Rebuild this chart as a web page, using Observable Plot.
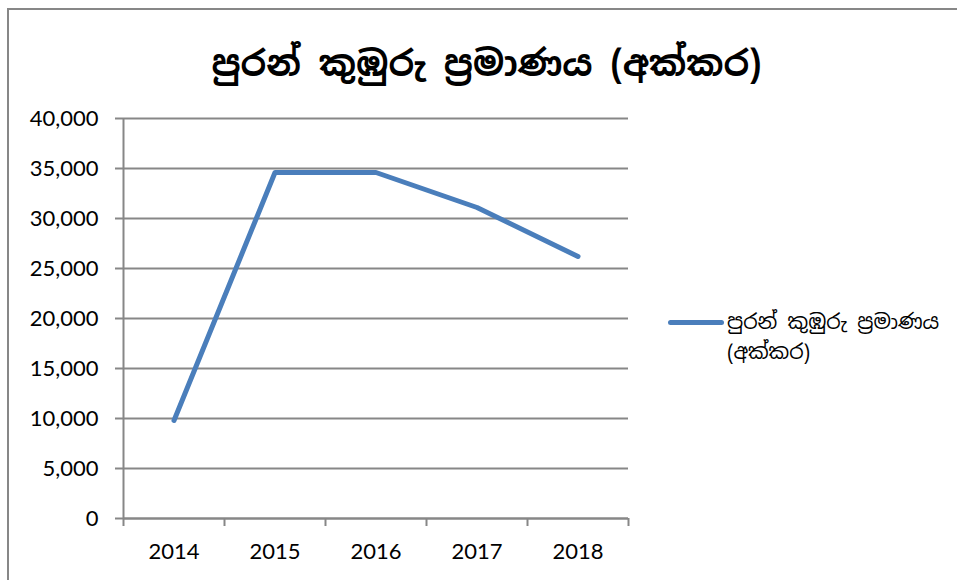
<!DOCTYPE html>
<html>
<head>
<meta charset="utf-8">
<script src="https://cdn.jsdelivr.net/npm/d3@7"></script>
<script src="https://cdn.jsdelivr.net/npm/@observablehq/plot@0.6"></script>
<style>
  html, body { margin: 0; padding: 0; background: #fff; }
  #frame {
    position: absolute; left: 7px; top: 8px; width: 1000px; height: 620px; z-index: 5; pointer-events: none;
    border-left: 2px solid #878787; border-top: 2px solid #878787; box-sizing: border-box;
  }
  #title {
    position: absolute; left: 8px; top: 33px; width: 957px; text-align: center;
    font-family: "Noto Sans Sinhala", "Iskoola Pota", "Noto Serif Sinhala", "DejaVu Sans", sans-serif;
    font-weight: bold; font-size: 35.5px; color: #000; line-height: 60px;
  }
  #chart { position: absolute; left: 0; top: 100px; }
  #legend {
    position: absolute; left: 668px; top: 307px; display: flex; align-items: flex-start;
    font-family: "Noto Sans Sinhala", "Iskoola Pota", "Noto Serif Sinhala", "DejaVu Sans", sans-serif;
    font-size: 20.5px; color: #000; line-height: 30px;
  }
  #legend .sw { width: 56px; height: 5px; background: #4a7ebb; border-radius: 3px; margin-top: 13px; margin-right: 3px; }
</style>
</head>
<body>
<div id="frame"></div>
<div id="title"></div>
<div id="chart"></div>
<div id="legend"><div class="sw"></div><div id="legtext"></div></div>
<script>
const titleText = "පුරන් කුඹුරු ප්‍රමාණය (අක්කර)";
const seriesName = "පුරන් කුඹුරු ප්‍රමාණය";
const seriesUnit = "(අක්කර)";
const years = [2014, 2015, 2016, 2017, 2018];
const acres = [9800, 34600, 34600, 31100, 26200];
const yTicks = [0, 5000, 10000, 15000, 20000, 25000, 30000, 35000, 40000];

document.getElementById("title").textContent = titleText;
const l1 = document.createElement("div"); l1.textContent = seriesName;
const l2 = document.createElement("div"); l2.textContent = seriesUnit;
document.getElementById("legtext").append(l1, l2);

const data = years.map((y, i) => ({year: y, value: acres[i]}));
const bounds = d3.range(years.length + 1).map(i => years[0] - 0.5 + i);
const gray = "#878787";

const chart = Plot.plot({
  width: 660,
  height: 470,
  marginLeft: 123,
  marginRight: 32,
  marginTop: 18,
  marginBottom: 52,
  style: {fontFamily: "Lato, 'Open Sans', sans-serif", fontSize: "22px", color: "#000", background: "transparent"},
  x: {type: "linear", domain: [bounds[0], bounds[bounds.length - 1]]},
  y: {domain: [0, 40000]},
  marks: [
    Plot.gridY(yTicks, {stroke: gray, strokeOpacity: 1, strokeWidth: 2}),
    Plot.axisY({ticks: yTicks, tickSize: 8, tickPadding: 17, tickFormat: d3.format(","), stroke: gray, strokeWidth: 2, label: null, fill: "#000"}),
    Plot.axisX({ticks: bounds, tickSize: 8, tickFormat: () => "", stroke: gray, strokeWidth: 2, label: null}),
    Plot.axisX({ticks: years, tickSize: 0, tickPadding: 25, tickFormat: d => String(d), label: null, fill: "#000"}),
    Plot.ruleX([bounds[0]], {stroke: gray, strokeWidth: 2}),
    Plot.ruleY([0], {stroke: gray, strokeWidth: 2}),
    Plot.line(data, {x: "year", y: "value", stroke: "#4a7ebb", strokeWidth: 5, strokeLinecap: "round", strokeLinejoin: "round"})
  ]
});
document.getElementById("chart").append(chart);
</script>
</body>
</html>
